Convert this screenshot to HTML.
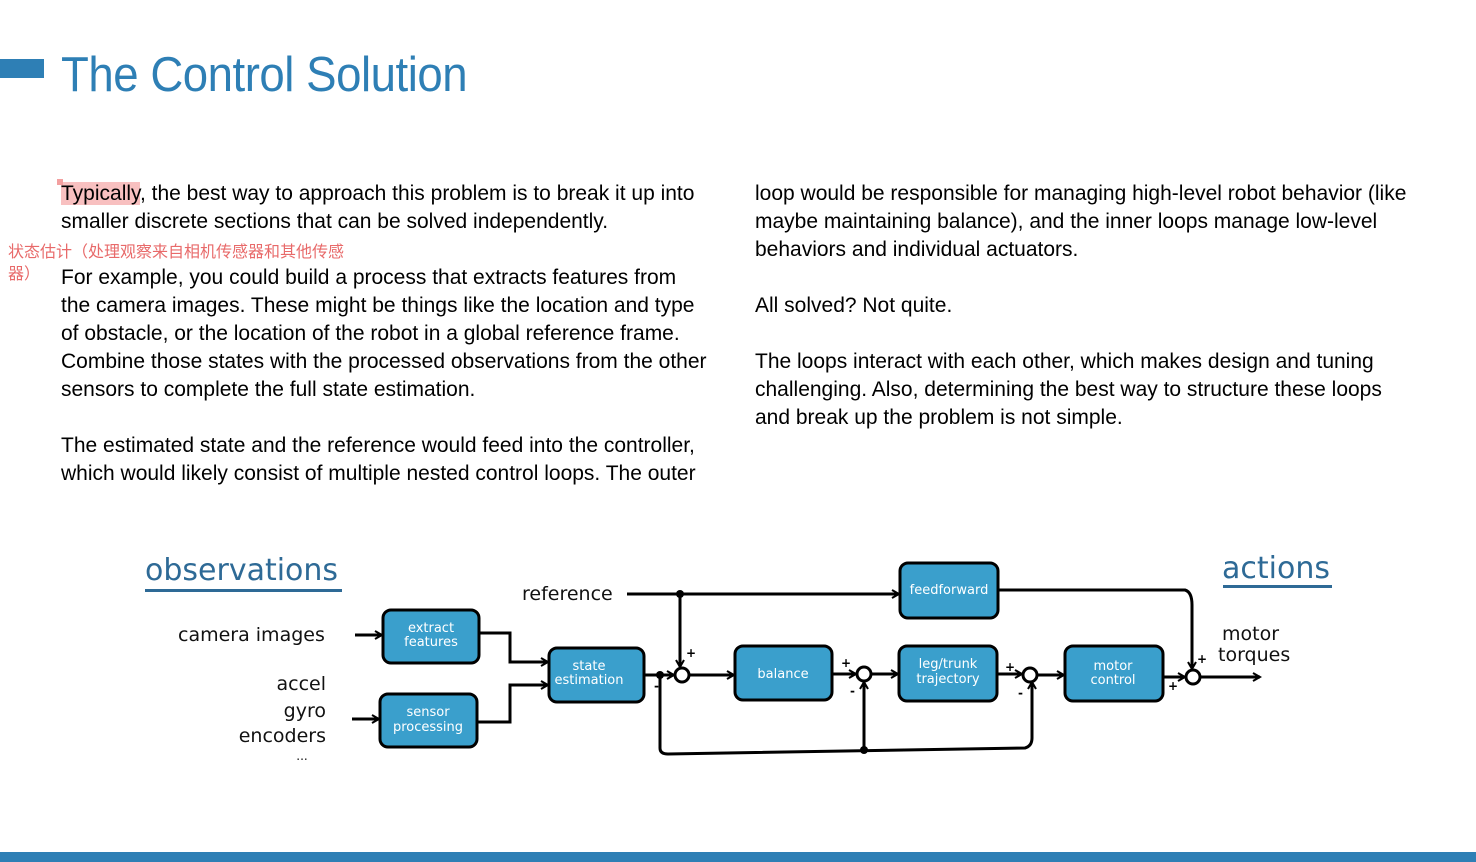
<!DOCTYPE html>
<html><head><meta charset="utf-8"><style>
body{margin:0;width:1476px;height:862px;background:#fff;position:relative;overflow:hidden;font-family:"Liberation Sans",Arial,sans-serif}
.t{position:absolute;font-size:21px;line-height:28px;color:#000;white-space:nowrap}
</style></head><body>
<div style="position:absolute;left:0;top:59px;width:44px;height:19px;background:#2e7fb5"></div>
<div style="position:absolute;left:61px;top:47px;font-size:49px;color:#2e7fb5;font-family:'Liberation Sans',sans-serif;letter-spacing:-0.5px;transform:scaleX(0.93);transform-origin:left">The Control Solution</div>
<div class="t" style="left:61px;top:180px"><span style="background:#f8c0c0">Typically</span>, the best way to approach this problem is to break it up into<br>smaller discrete sections that can be solved independently.</div>
<div style="position:absolute;left:57px;top:179px;width:6px;height:6px;background:#f3a0a0"></div>
<div style="position:absolute;left:8px;top:242px;font-size:16px;line-height:22px;color:#e86a6a;font-family:'Liberation Sans','Noto Sans CJK SC',sans-serif">状态估计（处理观察来自相机传感器和其他传感<br>器）</div>
<div class="t" style="left:61px;top:264px">For example, you could build a process that extracts features from<br>the camera images. These might be things like the location and type<br>of obstacle, or the location of the robot in a global reference frame.<br>Combine those states with the processed observations from the other<br>sensors to complete the full state estimation.<br><br>The estimated state and the reference would feed into the controller,<br>which would likely consist of multiple nested control loops. The outer</div>
<div class="t" style="left:755px;top:180px">loop would be responsible for managing high-level robot behavior (like<br>maybe maintaining balance), and the inner loops manage low-level<br>behaviors and individual actuators.<br><br>All solved? Not quite.<br><br>The loops interact with each other, which makes design and tuning<br>challenging. Also, determining the best way to structure these loops<br>and break up the problem is not simple.</div>
<svg width="1476" height="862" style="position:absolute;left:0;top:0" font-family="'DejaVu Sans',sans-serif">
<defs><marker id="a" markerWidth="10" markerHeight="10" refX="8" refY="5" orient="auto" markerUnits="userSpaceOnUse"><path d="M1,1 L8,5 L1,9" fill="none" stroke="#000" stroke-width="2"/></marker></defs>
<g fill="#2e6a96" font-size="30"><text x="145" y="580">observations</text><text x="1222" y="578">actions</text></g>
<rect x="145" y="589" width="197" height="3" fill="#2e6a96"/><rect x="1223" y="585" width="109" height="3" fill="#2e6a96"/>
<g font-size="19" fill="#111">
<text x="178" y="641">camera images</text>
<text x="326" y="690" text-anchor="end">accel</text>
<text x="326" y="717" text-anchor="end">gyro</text>
<text x="326" y="742" text-anchor="end">encoders</text>
<text x="302" y="760" text-anchor="middle" font-size="12">...</text>
<text x="522" y="600">reference</text>
<text x="1222" y="640">motor</text><text x="1218" y="661">torques</text>
</g>
<g stroke="#000" stroke-width="3" fill="none">
<path d="M355,635 H382" marker-end="url(#a)"/>
<path d="M352,719 H379" marker-end="url(#a)"/>
<path d="M479,633 H510 V662 H548" marker-end="url(#a)"/>
<path d="M477,722 H510 V685 H548" marker-end="url(#a)"/>
<path d="M627,594 H899" marker-end="url(#a)"/>
<path d="M680,594 V667" marker-end="url(#a)"/>
<path d="M644,675 H674" marker-end="url(#a)"/>
<path d="M689,675 H734" marker-end="url(#a)"/>
<path d="M832,674 H856" marker-end="url(#a)"/>
<path d="M871,674 H898" marker-end="url(#a)"/>
<path d="M997,674 H1022" marker-end="url(#a)"/>
<path d="M1037,675 H1064" marker-end="url(#a)"/>
<path d="M1163,677 H1185" marker-end="url(#a)"/>
<path d="M1200,677 H1260" marker-end="url(#a)"/>
<path d="M998,590 H1185 Q1192,592 1192,605 V669" marker-end="url(#a)"/>
<path d="M660,675 V748 Q660,754 668,754 L1025,748 Q1032,746 1032,738 V682" marker-end="url(#a)"/>
<path d="M864,750 V682" marker-end="url(#a)"/>
</g>
<g fill="#000"><circle cx="680" cy="594" r="4"/><circle cx="660" cy="675" r="4"/><circle cx="864" cy="750" r="4"/></g>
<g fill="#fff" stroke="#000" stroke-width="3"><circle cx="682" cy="675" r="7"/><circle cx="864" cy="674" r="7"/><circle cx="1030" cy="675" r="7"/><circle cx="1193" cy="677" r="7"/></g>
<g fill="#3a9fcc" stroke="#000" stroke-width="3">
<rect x="383" y="610" width="96" height="53" rx="8"/>
<rect x="380" y="694" width="97" height="53" rx="8"/>
<rect x="549" y="648" width="95" height="54" rx="8"/>
<rect x="735" y="646" width="97" height="54" rx="8"/>
<rect x="900" y="563" width="98" height="55" rx="8"/>
<rect x="899" y="646" width="98" height="55" rx="8"/>
<rect x="1065" y="646" width="98" height="55" rx="8"/>
</g>
<g fill="#fff" font-size="13" text-anchor="middle">
<text x="431" y="632">extract</text><text x="431" y="646">features</text>
<text x="428" y="716">sensor</text><text x="428" y="731">processing</text>
<text x="589" y="670">state</text><text x="589" y="684">estimation</text>
<text x="783" y="678">balance</text>
<text x="949" y="594">feedforward</text>
<text x="948" y="668">leg/trunk</text><text x="948" y="683">trajectory</text>
<text x="1113" y="670">motor</text><text x="1113" y="684">control</text>
</g>
<g font-size="12" font-weight="bold" fill="#000">
<text x="686" y="657">+</text><text x="654" y="690">-</text>
<text x="841" y="667">+</text><text x="850" y="695">-</text>
<text x="1005" y="671">+</text><text x="1018" y="697">-</text>
<text x="1197" y="663">+</text><text x="1168" y="690">+</text>
</g>
</svg>
<div style="position:absolute;left:0;top:852px;width:1476px;height:10px;background:#2e7fb5"></div>
</body></html>
